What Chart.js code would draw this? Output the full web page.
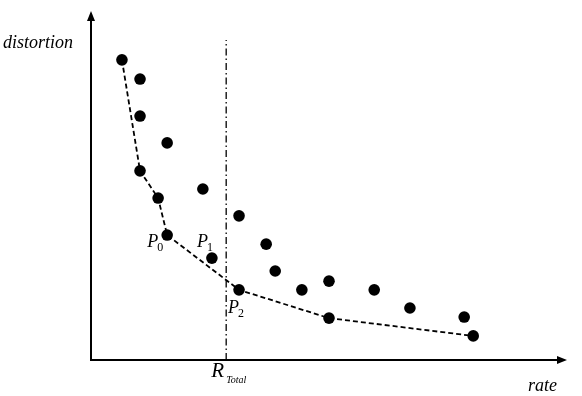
<!DOCTYPE html>
<html>
<head>
<meta charset="utf-8">
<script src="https://cdn.jsdelivr.net/npm/chart.js@4.4.1/dist/chart.umd.min.js"></script>
<style>
  html, body { margin: 0; padding: 0; background: #fff; }
  #wrap { width: 582px; height: 396px; }
</style>
</head>
<body>
<div id="wrap"><canvas id="rdChart" width="582" height="396"></canvas></div>
<script>
// operating points (rate, distortion) in arbitrary units
const rate       = [6.5, 10.3, 10.3, 16.0, 10.3, 23.5, 14.1, 16.0, 31.1, 36.8, 25.4, 38.7, 31.1, 44.3, 50.0, 59.5, 67.0, 78.4, 50.0, 80.3];
const distortion = [86.0, 80.5, 69.9, 62.2, 54.2, 49.0, 46.4, 35.8, 41.3, 33.2, 29.2, 25.5, 20.1, 20.1, 22.6, 20.1, 14.9, 12.3, 12.0, 6.9];

// lower convex hull
const hullRate       = [6.5, 10.3, 14.1, 16.0, 31.1, 50.0, 80.3];
const hullDistortion = [86.0, 54.2, 46.4, 35.8, 20.1, 12.0, 6.9];

// rate budget
const rTotal = 28.4;
const rTotalTop = 91.7;

const axisNames = ["rate", "distortion"];

// named points: index into the arrays above, subscript
const namedPoints = [
  { idx: 7, sub: "0", dx: -20, dy: 12 },
  { idx: 10, sub: "1", dx: -15, dy: -11 },
  { idx: 12, sub: "2", dx: -11, dy: 23 }
];

const SERIF = '"Liberation Serif", "DejaVu Serif", serif';

const toXY = (xs, ys) => xs.map((x, i) => ({ x: x, y: ys[i] }));

/* ---------- axes with arrows + text ---------- */
const decor = {
  id: "decor",
  beforeDatasetsDraw(chart) {
    const { ctx, chartArea: a } = chart;
    ctx.save();
    ctx.strokeStyle = "#000";
    ctx.fillStyle = "#000";
    ctx.lineWidth = 2;

    // y axis
    ctx.beginPath();
    ctx.moveTo(a.left, a.bottom + 1);
    ctx.lineTo(a.left, a.top + 6);
    ctx.stroke();
    ctx.beginPath();
    ctx.moveTo(a.left, a.top);
    ctx.lineTo(a.left - 4, a.top + 10);
    ctx.lineTo(a.left + 4, a.top + 10);
    ctx.closePath();
    ctx.fill();

    // x axis
    ctx.beginPath();
    ctx.moveTo(a.left - 1, a.bottom);
    ctx.lineTo(a.right - 6, a.bottom);
    ctx.stroke();
    ctx.beginPath();
    ctx.moveTo(a.right, a.bottom);
    ctx.lineTo(a.right - 10, a.bottom - 4);
    ctx.lineTo(a.right - 10, a.bottom + 4);
    ctx.closePath();
    ctx.fill();
    ctx.restore();
  },
  afterDatasetsDraw(chart) {
    const { ctx, chartArea: a, scales } = chart;
    ctx.save();
    ctx.fillStyle = "#000";
    ctx.textBaseline = "alphabetic";
    ctx.textAlign = "left";

    ctx.font = "italic 18px " + SERIF;
    ctx.fillText(axisNames[1], 3, 48);
    ctx.fillText(axisNames[0], a.right - 39, a.bottom + 31);

    // R_Total
    const rx = scales.x.getPixelForValue(rTotal);
    ctx.font = "italic 21px " + SERIF;
    ctx.fillText("R", rx - 15, a.bottom + 17);
    ctx.font = "italic 10px " + SERIF;
    ctx.fillText("Total", rx, a.bottom + 23);

    // P0, P1, P2
    namedPoints.forEach(p => {
      const px = scales.x.getPixelForValue(rate[p.idx]) + p.dx;
      const py = scales.y.getPixelForValue(distortion[p.idx]) + p.dy;
      ctx.font = "italic 18px " + SERIF;
      ctx.fillText("P", px, py);
      ctx.font = "12px " + SERIF;
      ctx.fillText(p.sub, px + 10, py + 4);
    });
    ctx.restore();
  }
};

new Chart(document.getElementById("rdChart"), {
  type: "scatter",
  data: {
    datasets: [
      {
        data: toXY(rate, distortion),
        pointRadius: 5.8,
        pointBackgroundColor: "#000",
        pointBorderWidth: 0,
        showLine: false,
        order: 0
      },
      {
        data: toXY(hullRate, hullDistortion),
        showLine: true,
        borderColor: "#000",
        borderWidth: 1.8,
        borderDash: [5, 3],
        pointRadius: 0,
        fill: false,
        order: 1
      },
      {
        data: [{ x: rTotal, y: 0 }, { x: rTotal, y: rTotalTop }],
        showLine: true,
        borderColor: "#000",
        borderWidth: 1.3,
        borderDash: [7, 3, 1.5, 3],
        pointRadius: 0,
        fill: false,
        order: 2
      }
    ]
  },
  options: {
    responsive: false,
    animation: false,
    layout: { padding: { left: 91, right: 15, top: 11, bottom: 36 } },
    plugins: {
      legend: { display: false },
      tooltip: { enabled: false }
    },
    scales: {
      x: { type: "linear", min: 0, max: 100, display: false },
      y: { type: "linear", min: 0, max: 100, display: false }
    }
  },
  plugins: [decor]
});
</script>
</body>
</html>
